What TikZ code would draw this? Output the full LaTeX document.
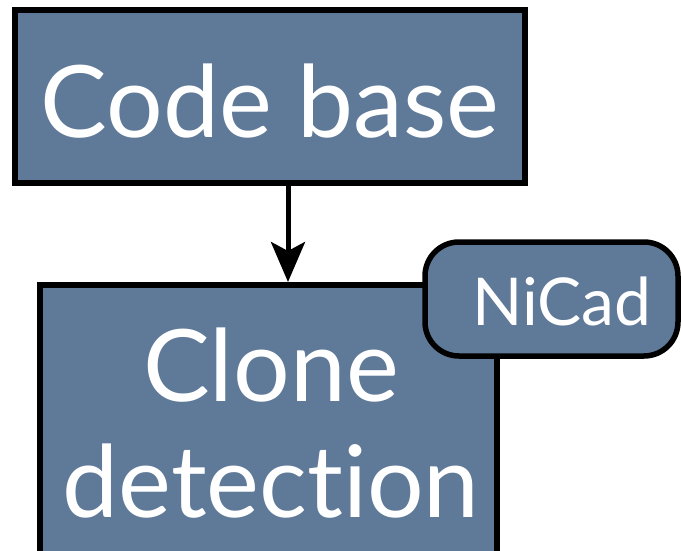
\documentclass[tikz,border=0pt]{standalone}
\usepackage{fontspec}
\setmainfont{Lato}[Ligatures=NoCommon]
\usetikzlibrary{arrows.meta,positioning}
\definecolor{slate}{RGB}{95,121,152}
\tikzset{
  panel/.style={draw=black, line width=6pt, fill=slate, text=white,
    align=center, inner sep=0pt},
  tag/.style={panel, rounded corners=34pt, line width=5.5pt},
  flow/.style={line width=5pt, -{Stealth[length=40pt,width=34pt,inset=9pt]}},
  label/.style={text=white, align=center, inner sep=0pt}
}
\begin{document}
\begin{tikzpicture}[x=1pt,y=-1pt]
  \useasboundingbox (0,0) rectangle (681,551);
  \clip (0,0) rectangle (681,551);
  % Boxes
  \node[panel, minimum width=510pt, minimum height=173pt] (code) at (270,96.5) {};
  \node[panel, minimum width=457pt, minimum height=275pt] (clone) at (268.5,422.5) {};
  \node[tag, minimum width=253pt, minimum height=114pt] (nicad) at (551.5,299) {};
  % Labels
  \node[label, font=\fontsize{100}{100}\selectfont] at (code.center) [yshift=-4.5pt] {Code base};
  \node[label, font=\fontsize{100}{116}\selectfont] at (271,423) {Clone\\detection};
  \node[label, font=\fontsize{66}{66}\selectfont] at (562,301) {NiCad};
  % Connector
  \draw[flow] ([xshift=18pt]code.south) -- ([xshift=18pt]code.south |- clone.north);
\end{tikzpicture}
\end{document}
